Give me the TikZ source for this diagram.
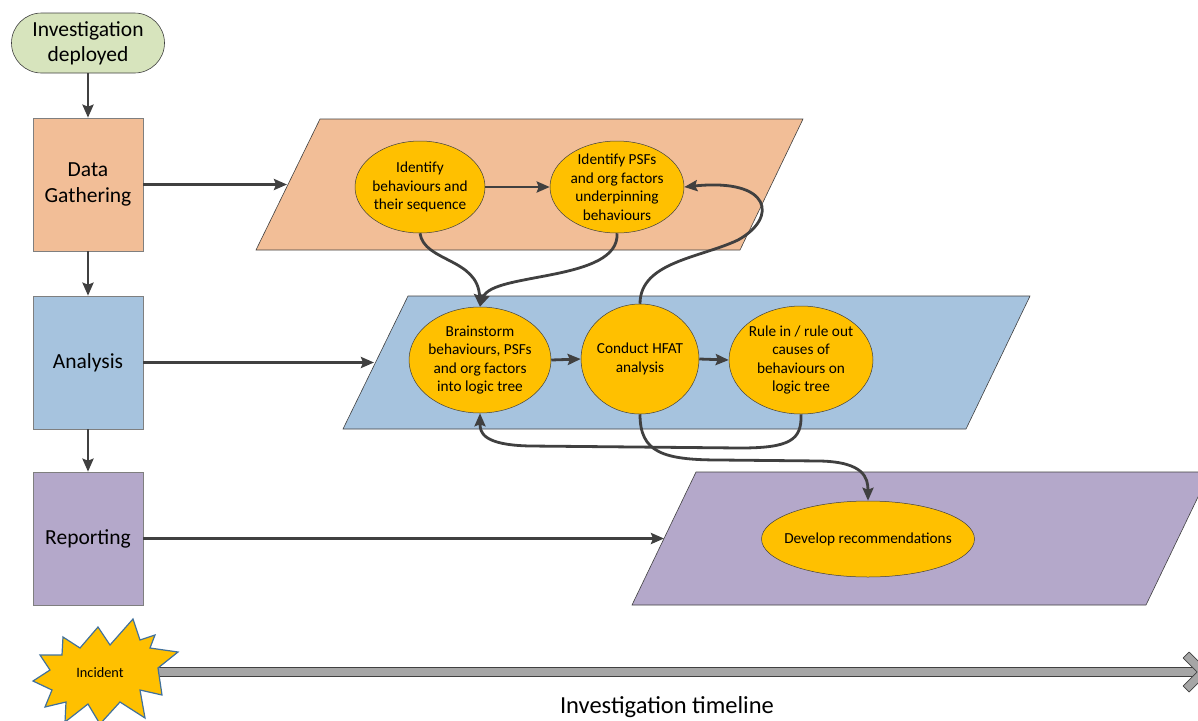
\documentclass[tikz,border=0pt]{standalone}
\usepackage{fontspec}
\setmainfont{Carlito}
\usetikzlibrary{shapes.geometric,arrows.meta}

\definecolor{startgreen}{HTML}{D7E4BD}
\definecolor{gatherfill}{HTML}{F2BE97}
\definecolor{analysefill}{HTML}{A6C3DE}
\definecolor{reportfill}{HTML}{B4A8CA}
\definecolor{ovalfill}{HTML}{FFC000}
\definecolor{darkline}{HTML}{404040}
\definecolor{boxline}{HTML}{7F7F7F}
\definecolor{tlgray}{HTML}{A6A6A6}
\definecolor{starline}{HTML}{41719C}

\begin{document}
\begin{tikzpicture}[x=1pt,y=-1pt,
	stagebox/.style={draw=boxline, line width=0.6pt, minimum width=110pt, minimum height=133pt, inner sep=0pt, align=center, font=\fontsize{21.5}{26}\selectfont},
	ovalbox/.style={ellipse, draw=darkline, line width=0.5pt, fill=ovalfill, inner sep=-14pt, align=center, font=\fontsize{15.3}{18.5}\selectfont},
	plane/.style={draw=darkline, line width=0.6pt},
	arr/.style={draw=darkline, line width=2.8pt, -{Stealth[length=13pt,width=11pt,inset=2pt]}},
	]
	\useasboundingbox (0,0) rectangle (1198,720);
	% left column of stages
	\node[draw=darkline, line width=0.6pt, fill=startgreen, rounded corners=30pt, minimum width=153pt, minimum height=60pt, inner sep=0pt, align=center, font=\fontsize{21.5}{25}\selectfont] (deployed) at (88,43) {Investigation\\deployed};
	\node[stagebox, fill=gatherfill] (gathering) at (88,184.5) {Data\\Gathering};
	\node[stagebox, fill=analysefill] (analysis) at (88,362.5) {Analysis};
	\node[stagebox, fill=reportfill] (reporting) at (88,538.5) {Reporting};
	\draw[arr] (deployed) -- (gathering);
	\draw[arr] (gathering) -- (analysis);
	\draw[arr] (analysis) -- (reporting);
	% the three planes
	\fill[gatherfill] (320,119) -- (803,119) -- (740,250) -- (256,250) -- cycle;
	\draw[plane] (320,119) -- (803,119) -- (740,250) -- (256,250) -- cycle;
	\fill[analysefill] (408,296) -- (1030,296) -- (966,429) -- (343,429) -- cycle;
	\draw[plane] (408,296) -- (1030,296) -- (966,429) -- (343,429) -- cycle;
	\fill[reportfill] (696,472) -- (1210,472) -- (1146,605) -- (632,605) -- cycle;
	\draw[plane] (696,472) -- (1210,472) -- (1146,605) -- (632,605) -- cycle;
	\coordinate (gatherin) at (287,184.5);
	\coordinate (analysein) at (374,362.5);
	\coordinate (reportin) at (664,538.5);
	\draw[arr] (gathering.east) -- (gatherin);
	\draw[arr] (analysis.east) -- (analysein);
	\draw[arr] (reporting.east) -- (reportin);
	% activities
	\node[ovalbox, minimum width=130pt, minimum height=92pt] (idbeh) at (420,187) {Identify\\behaviours and\\their sequence};
	\node[ovalbox, minimum width=134pt, minimum height=92pt] (idpsf) at (617,187) {Identify PSFs\\and org factors\\underpinning\\behaviours};
	\node[ovalbox, minimum width=142pt, minimum height=106pt] (brain) at (480,360) {Brainstorm\\behaviours, PSFs\\and org factors\\into logic tree};
	\node[ovalbox, minimum width=118pt, minimum height=110pt] (hfat) at (640,359) {Conduct HFAT\\analysis};
	\node[ovalbox, minimum width=144pt, minimum height=108pt] (rule) at (801,360) {Rule in / rule out\\causes of\\behaviours on\\logic tree};
	\node[ovalbox, minimum width=213pt, minimum height=76pt] (recom) at (868,539) {Develop recommendations};
	\draw[arr] (idbeh.east) -- (idpsf.west);
	\draw[arr] (brain.east) -- (hfat.west);
	\draw[arr] (hfat.east) -- (rule.west);
	\draw[arr] (idbeh.south) .. controls (424,262) and (478,258) .. (brain.north);
	\draw[arr] (idpsf.south) .. controls (620,282) and (492,272) .. (brain.north);
	\draw[arr] (hfat.north) .. controls (640,262) and (700,258) .. (738,240) .. controls (778,218) and (772,178) .. (idpsf.east);
	\draw[arr] (rule.south) .. controls (802,440) and (790,448) .. (740,448) -- (530,446) .. controls (482,445) and (480,432) .. (brain.south);
	\draw[arr] (hfat.south) .. controls (640,452) and (662,460) .. (720,460) -- (820,461) .. controls (864,462) and (868,478) .. (recom.north);
	% timeline
	\coordinate (tlstart) at (150,672);
	\coordinate (tlend) at (1196,672);
	\draw[draw=darkline, line width=0.7pt, double=tlgray, double distance=8pt] (tlstart) -- (tlend);
	\filldraw[fill=tlgray, draw=darkline, line width=0.7pt, line join=round] (1183,658) -- (1189,652) -- (1209,672) -- (1189,692) -- (1183,686) -- (1197,672) -- cycle;
	\filldraw[fill=ovalfill, draw=starline, line width=1.2pt, line join=miter] (133,619) -- (140,640) -- (155,635) -- (150,648) -- (178,652) -- (158,668) -- (162,695) -- (140,690) -- (145,718) -- (120,702) -- (100,724) -- (88,704) -- (65,722) -- (66,702) -- (45,707) -- (52,690) -- (33,681) -- (50,670) -- (40,655) -- (62,655) -- (63,637) -- (80,648) -- (98,627) -- (110,645) -- cycle;
	\node[font=\fontsize{14.3}{17}\selectfont] (incident) at (100,673) {Incident};
	\node[font=\fontsize{24.5}{28}\selectfont] (timeline) at (667,707) {Investigation timeline};
\end{tikzpicture}
\end{document}
